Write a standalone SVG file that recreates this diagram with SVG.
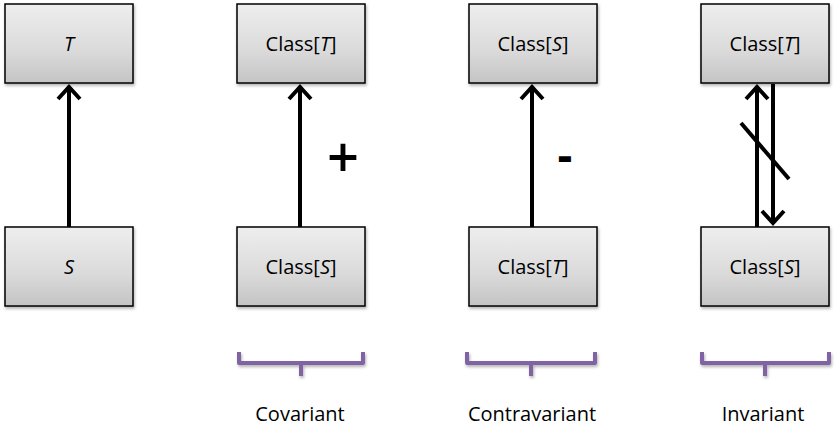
<svg xmlns="http://www.w3.org/2000/svg" width="836" height="442" viewBox="0 0 836 442">
<defs>
<linearGradient id="g" x1="0" y1="0" x2="0" y2="1">
<stop offset="0" stop-color="#eeeeee"/>
<stop offset="0.6" stop-color="#dadada"/>
<stop offset="1" stop-color="#c4c4c4"/>
</linearGradient>
<filter id="sh" x="-10%" y="-10%" width="130%" height="130%">
<feDropShadow dx="1" dy="2" stdDeviation="1.5" flood-color="#000" flood-opacity="0.3"/>
</filter>
</defs>
<style>
.box{fill:url(#g);stroke:#000;stroke-width:1.5;filter:url(#sh)}
.lbl{font-family:"Open Sans","Liberation Sans",sans-serif;font-size:20px;fill:#000;text-anchor:middle}
.cap{font-family:"Open Sans","Liberation Sans",sans-serif;font-size:20px;fill:#000;text-anchor:middle}
.ln{stroke:#000;stroke-width:4;fill:none}
.hd{stroke:#000;stroke-width:4;fill:none;stroke-linecap:butt;stroke-linejoin:miter}
.br{stroke:#8064a2;stroke-width:4;fill:none;stroke-linejoin:round;filter:url(#sh)}
.sym{font-family:"Open Sans","Liberation Sans",sans-serif;fill:#000;text-anchor:middle}
</style>
<rect width="836" height="442" fill="#fff"/>
<g id="nT"><rect class="box" x="5" y="4" width="128" height="79"/><text class="lbl" x="69" y="51" font-style="italic">T</text></g>
<g id="nS"><rect class="box" x="5" y="227" width="128" height="79"/><text class="lbl" x="69" y="274" font-style="italic">S</text></g>
<g id="cov-top"><rect class="box" x="237" y="4" width="128" height="79"/><text class="lbl" x="301" y="51">Class[<tspan font-style="italic">T</tspan>]</text></g>
<g id="cov-bot"><rect class="box" x="237" y="227" width="128" height="79"/><text class="lbl" x="301" y="274">Class[<tspan font-style="italic">S</tspan>]</text></g>
<g id="con-top"><rect class="box" x="469" y="4" width="128" height="79"/><text class="lbl" x="533" y="51">Class[<tspan font-style="italic">S</tspan>]</text></g>
<g id="con-bot"><rect class="box" x="469" y="227" width="128" height="79"/><text class="lbl" x="533" y="274">Class[<tspan font-style="italic">T</tspan>]</text></g>
<g id="inv-top"><rect class="box" x="701" y="4" width="128" height="79"/><text class="lbl" x="765" y="51">Class[<tspan font-style="italic">T</tspan>]</text></g>
<g id="inv-bot"><rect class="box" x="701" y="227" width="128" height="79"/><text class="lbl" x="765" y="274">Class[<tspan font-style="italic">S</tspan>]</text></g>
<g id="connectors">
<line class="ln" x1="69" y1="227" x2="69" y2="87"/>
<polyline class="hd" points="58,99 69,87 80,99"/>
<line class="ln" x1="300" y1="227" x2="300" y2="87"/>
<polyline class="hd" points="289,99 300,87 311,99"/>
<line class="ln" x1="532" y1="227" x2="532" y2="87"/>
<polyline class="hd" points="521,99 532,87 543,99"/>
<line class="ln" x1="757" y1="227" x2="757" y2="87"/>
<polyline class="hd" points="746,99 757,87 768,99"/>
<line class="ln" x1="773" y1="84" x2="773" y2="223"/>
<polyline class="hd" points="762,211 773,223 784,211"/>
<line class="ln" x1="741" y1="123" x2="789" y2="179"/>
</g>
<g id="signs">
<text class="sym" x="343" y="177" font-size="56" font-weight="600">+</text>
<text class="sym" x="565" y="172" font-size="46" font-weight="bold">-</text>
</g>
<g id="braces">
<path class="br" d="M239,352 V363 H363 V352 M301,363 V376"/>
<path class="br" d="M467,352 V363 H595 V352 M531,363 V376"/>
<path class="br" d="M702,352 V363 H829 V352 M765,363 V376"/>
</g>
<g id="captions">
<text class="cap" x="300" y="421">Covariant</text>
<text class="cap" x="532" y="421">Contravariant</text>
<text class="cap" x="763" y="421">Invariant</text>
</g>
</svg>
